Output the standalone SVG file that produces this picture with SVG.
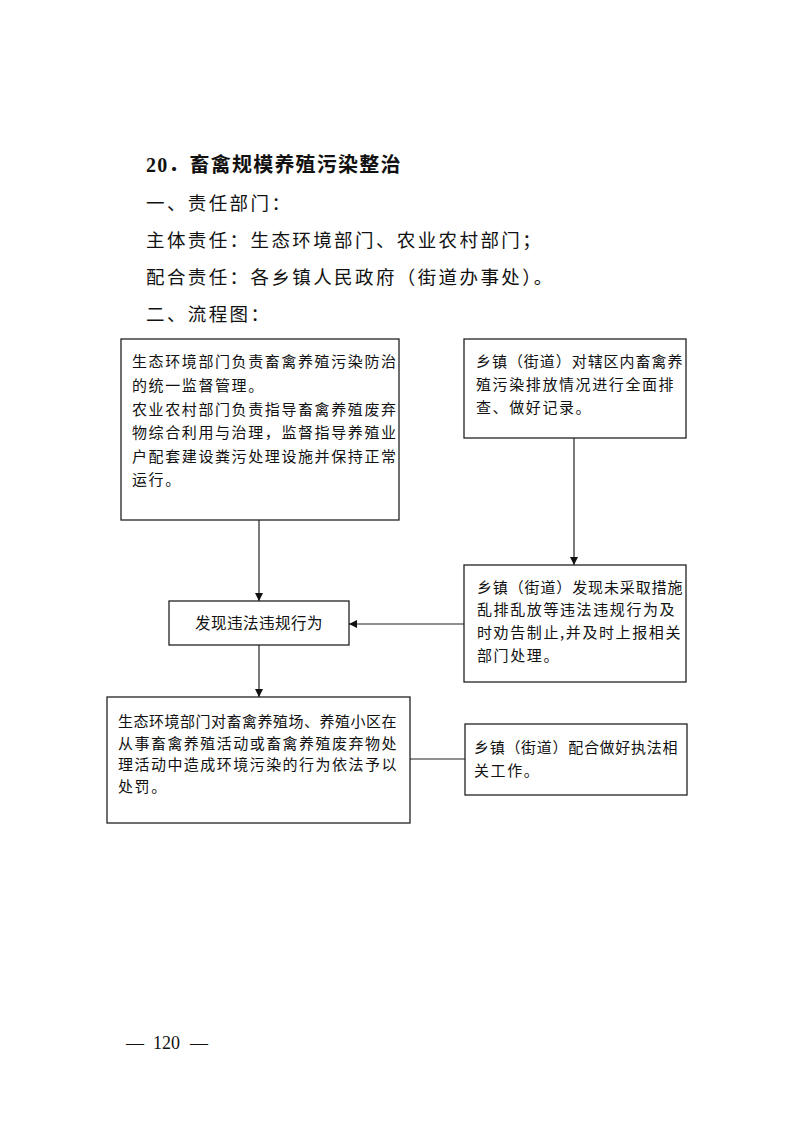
<svg xmlns="http://www.w3.org/2000/svg" width="793" height="1122" viewBox="0 0 793 1122">
<style>
  .h { font-family: "Liberation Serif", "Noto Sans CJK SC", serif; font-size: 20px; font-weight: bold; letter-spacing: 1.2px; fill: #111; }
  .p { font-family: "Noto Sans CJK SC", sans-serif; font-size: 18.5px; letter-spacing: 2.4px; fill: #111; }
  .t { font-family: "Noto Sans CJK SC", sans-serif; font-size: 15px; letter-spacing: 1.6px; fill: #111; }
  .box { fill: #fff; stroke: #222; stroke-width: 1.3; }
  .con { fill: none; stroke: #222; stroke-width: 1.2; }
  .pg { font-family: "Liberation Serif", serif; font-size: 18px; fill: #111; }
</style>
<defs>
  <marker id="arr" viewBox="0 0 10 10" refX="10" refY="5" markerWidth="8" markerHeight="8" markerUnits="userSpaceOnUse" orient="auto">
    <path d="M0,0 L10,5 L0,10 z" fill="#111"/>
  </marker>
</defs>
<rect width="793" height="1122" fill="#fff"/>

<g id="header">
  <text class="h" x="146" y="172">20．畜禽规模养殖污染整治</text>
  <text class="p" x="146" y="210">一、责任部门：</text>
  <text class="p" x="146" y="247">主体责任：生态环境部门、农业农村部门；</text>
  <text class="p" x="146" y="284">配合责任：各乡镇人民政府（街道办事处）。</text>
  <text class="p" x="146" y="321">二、流程图：</text>
</g>

<g id="connectors">
  <line class="con" x1="259" y1="520" x2="259" y2="601" marker-end="url(#arr)"/>
  <line class="con" x1="574" y1="438" x2="574" y2="565" marker-end="url(#arr)"/>
  <line class="con" x1="464" y1="624" x2="349" y2="624" marker-end="url(#arr)"/>
  <line class="con" x1="259" y1="645" x2="259" y2="697" marker-end="url(#arr)"/>
  <line class="con" x1="410" y1="759" x2="465" y2="759"/>
</g>

<g id="node1">
  <rect class="box" x="121" y="339" width="278" height="181"/>
  <text class="t" x="132" y="367">生态环境部门负责畜禽养殖污染防治</text>
  <text class="t" x="132" y="391">的统一监督管理。</text>
  <text class="t" x="132" y="414.5">农业农村部门负责指导畜禽养殖废弃</text>
  <text class="t" x="132" y="438">物综合利用与治理，监督指导养殖业</text>
  <text class="t" x="132" y="461.5">户配套建设粪污处理设施并保持正常</text>
  <text class="t" x="132" y="485">运行。</text>
</g>

<g id="node2">
  <rect class="box" x="464" y="339" width="222" height="99"/>
  <text class="t" x="476" y="367" textLength="208" lengthAdjust="spacing">乡镇（街道）对辖区内畜禽养</text>
  <text class="t" x="476" y="390">殖污染排放情况进行全面排</text>
  <text class="t" x="476" y="413">查、做好记录。</text>
</g>

<g id="node3">
  <rect class="box" x="464" y="565" width="222" height="117"/>
  <text class="t" x="477" y="592.5" textLength="207" lengthAdjust="spacing">乡镇（街道）发现未采取措施</text>
  <text class="t" x="477" y="615">乱排乱放等违法违规行为及</text>
  <text class="t" x="477" y="638" textLength="205" lengthAdjust="spacing">时劝告制止,并及时上报相关</text>
  <text class="t" x="477" y="661">部门处理。</text>
</g>

<g id="node4">
  <rect class="box" x="169" y="601" width="180" height="44"/>
  <text class="t" x="259" y="629" text-anchor="middle" style="font-size:15.5px;letter-spacing:0.5px">发现违法违规行为</text>
</g>

<g id="node5">
  <rect class="box" x="107" y="697" width="303" height="126"/>
  <text class="t" x="118" y="727" textLength="280" lengthAdjust="spacing">生态环境部门对畜禽养殖场、养殖小区在</text>
  <text class="t" x="118" y="748.5" textLength="280" lengthAdjust="spacing">从事畜禽养殖活动或畜禽养殖废弃物处</text>
  <text class="t" x="118" y="770" textLength="280" lengthAdjust="spacing">理活动中造成环境污染的行为依法予以</text>
  <text class="t" x="118" y="792">处罚。</text>
</g>

<g id="node6">
  <rect class="box" x="465" y="724" width="222" height="71"/>
  <text class="t" x="474" y="752.5" textLength="205" lengthAdjust="spacing">乡镇（街道）配合做好执法相</text>
  <text class="t" x="474" y="775.5">关工作。</text>
</g>

<g id="footer">
  <text class="pg" x="126" y="1049">—</text>
  <text class="pg" x="153" y="1049">120</text>
  <text class="pg" x="190" y="1049">—</text>
</g>
</svg>
